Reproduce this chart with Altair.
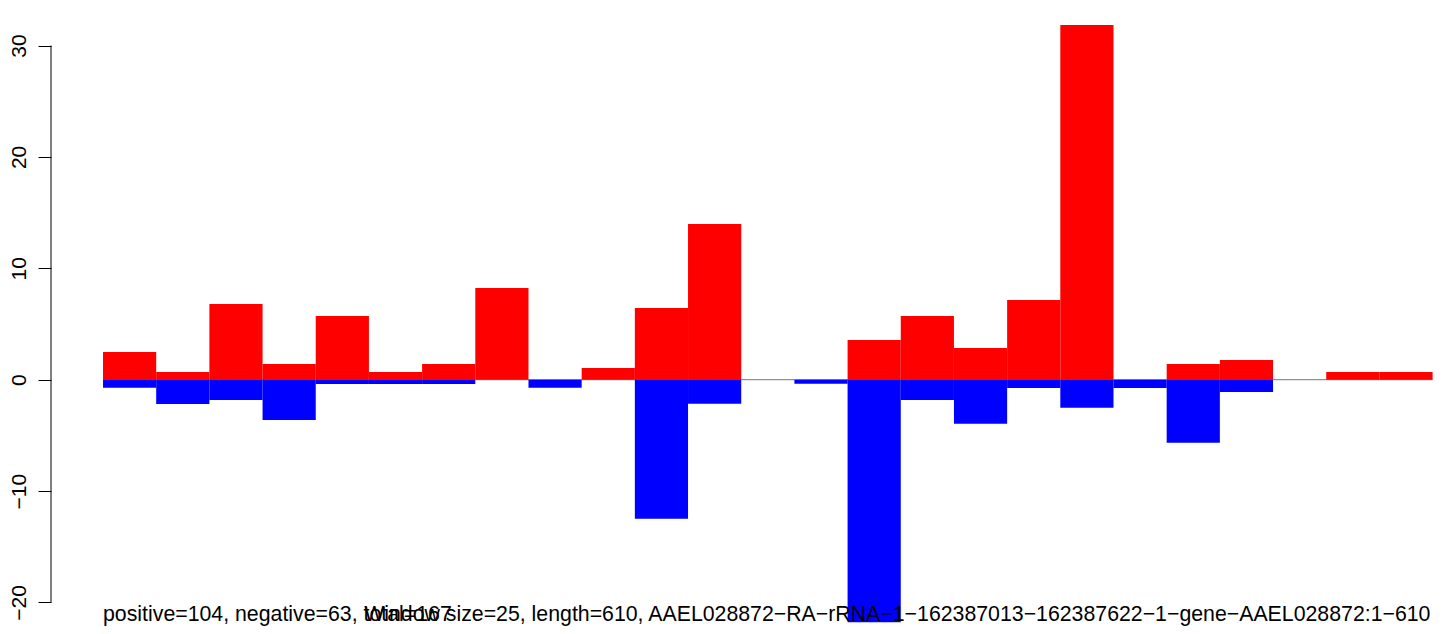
import altair as alt
import pandas as pd

# window values (window size 25 along a length-610 transcript)
win_start = [i * 25 for i in range(25)]
pos_vals = [2.49, 0.69, 6.80, 1.41, 5.72, 0.69, 1.41, 8.23, 0.0, 1.05,
            6.44, 13.98, 0.0, 0.0, 3.56, 5.72, 2.85, 7.15, 31.84, 0.0,
            1.41, 1.78, 0.0, 0.69, 0.69]
neg_vals = [-0.72, -2.18, -1.82, -3.62, -0.39, -0.39, -0.39, 0.0, -0.72, 0.0,
            -12.48, -2.15, 0.0, -0.36, -21.78, -1.82, -3.95, -0.75, -2.51, -0.75,
            -5.66, -1.10, 0.0, 0.0, 0.0]
y_ticks = [-20, -10, 0, 10, 20, 30]
text_left = "positive=104, negative=63, total=167"
text_right = ("Window size=25, length=610, "
              "AAEL028872\u2212RA\u2212rRNA\u22121\u2212162387013\u2212162387622\u22121\u2212gene\u2212AAEL028872:1\u2212610")

df = pd.DataFrame({
    "start": win_start,
    "end": [s + 25 for s in win_start],
    "pos": pos_vals,
    "neg": neg_vals,
    "zero": [0.0] * 25,
})
df_pos = df[df["pos"] > 0]
df_neg = df[df["neg"] < 0]

xscale = alt.Scale(domain=[-24.45, 626.6], nice=False, zero=False)
yscale = alt.Scale(domain=[-22.11, 33.37], nice=False, zero=False)
yaxis = alt.Axis(values=y_ticks, domain=False, grid=False, tickSize=13,
                 tickColor="black", tickWidth=1, labelAngle=270,
                 labelAlign="center", labelBaseline="bottom", labelPadding=9,
                 labelFont="Liberation Sans", labelFontSize=21,
                 labelColor="black", title=None)

zero_df = pd.DataFrame({"a": [0], "b": [625], "y": [0.0]})
zero_line = alt.Chart(zero_df).mark_rule(color="#777777", strokeWidth=1).encode(
    x=alt.X("a:Q", scale=xscale, axis=None),
    x2="b:Q",
    y=alt.Y("y:Q", scale=yscale, axis=yaxis),
)

red = alt.Chart(df_pos).mark_rect(color="#FF0000").encode(
    x=alt.X("start:Q", scale=xscale, axis=None),
    x2="end:Q",
    y=alt.Y("zero:Q", scale=yscale, axis=yaxis),
    y2="pos:Q",
)
blue = alt.Chart(df_neg).mark_rect(color="#0000FF").encode(
    x=alt.X("start:Q", scale=xscale, axis=None),
    x2="end:Q",
    y=alt.Y("zero:Q", scale=yscale, axis=yaxis),
    y2="neg:Q",
)

ax_df = pd.DataFrame({"lo": [y_ticks[0]], "hi": [y_ticks[-1]]})
axis_line = alt.Chart(ax_df).mark_rule(color="black", strokeWidth=1).encode(
    x=alt.value(0),
    y=alt.Y("lo:Q", scale=yscale, axis=yaxis),
    y2="hi:Q",
)

txt_df = pd.DataFrame({"x": [0, 624], "y": [-21.66, -21.66],
                       "t": [text_left, text_right]})
t1 = alt.Chart(txt_df.iloc[[0]]).mark_text(
    align="left", baseline="alphabetic", font="Liberation Sans", fontSize=21.3, color="black"
).encode(x=alt.X("x:Q", scale=xscale, axis=None),
         y=alt.Y("y:Q", scale=yscale, axis=yaxis), text="t:N")
t2 = alt.Chart(txt_df.iloc[[1]]).mark_text(
    align="right", baseline="alphabetic", font="Liberation Sans", fontSize=21.3, color="black"
).encode(x=alt.X("x:Q", scale=xscale, axis=None),
         y=alt.Y("y:Q", scale=yscale, axis=yaxis), text="t:N")

chart = alt.layer(zero_line, red, blue, axis_line, t1, t2).properties(
    width=1385, height=618,
    autosize=alt.AutoSizeParams(type="none"),
    padding={"left": 43, "top": 0, "right": 0, "bottom": 0},
).configure_view(strokeWidth=0)

chart.save("out.html", embed_options={"renderer": "svg", "actions": False})
